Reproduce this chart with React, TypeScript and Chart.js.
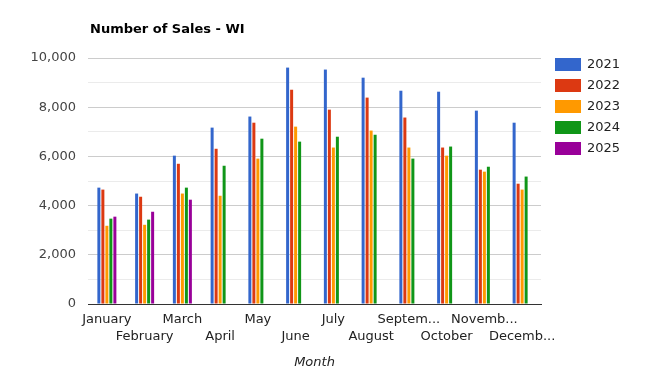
import React, { useEffect, useRef } from 'react';
import { Chart, registerables } from 'chart.js';

Chart.register(...registerables);

const chartTitle = 'Number of Sales - WI';
const xAxisTitle = 'Month';

const months = [
  'January', 'February', 'March', 'April', 'May', 'June',
  'July', 'August', 'September', 'October', 'November', 'December',
];
const tickLabels = [
  'January', 'February', 'March', 'April', 'May', 'June',
  'July', 'August', 'Septem...', 'October', 'Novemb...', 'Decemb...',
];

const seriesNames = ['2021', '2022', '2023', '2024', '2025'];
const seriesColors = ['#3366cc', '#dc3912', '#ff9900', '#109618', '#990099'];

const sales2021 = [4730, 4490, 6030, 7170, 7620, 9610, 9530, 9200, 8670, 8630, 7860, 7370];
const sales2022 = [4650, 4360, 5700, 6310, 7370, 8710, 7900, 8390, 7580, 6360, 5460, 4890];
const sales2023 = [3180, 3220, 4490, 4400, 5910, 7210, 6360, 7050, 6360, 6030, 5380, 4650];
const sales2024 = [3470, 3430, 4730, 5620, 6720, 6600, 6800, 6880, 5910, 6400, 5580, 5180];
const sales2025 = [3550, 3750, 4240, null, null, null, null, null, null, null, null, null];

const yTicksMax = 10000;
const yStep = 1000;

const FONT = "'DejaVu Sans', Verdana, sans-serif";

const titleLegendPlugin = {
  id: 'titleLegend',
  afterDraw(chart: any) {
    const ctx = chart.ctx;
    ctx.save();
    ctx.font = `bold 13px ${FONT}`;
    ctx.fillStyle = '#000000';
    ctx.textAlign = 'left';
    ctx.textBaseline = 'middle';
    ctx.fillText(chartTitle, 90, 30);

    ctx.font = `13px ${FONT}`;
    chart.data.datasets.forEach((ds: any, i: number) => {
      const y = 58 + i * 21;
      ctx.fillStyle = ds.backgroundColor;
      ctx.fillRect(555, y, 26, 13);
      ctx.fillStyle = '#222222';
      ctx.textBaseline = 'middle';
      ctx.fillText(ds.label, 587, y + 7);
    });
    ctx.restore();
  },
};

export default function App() {
  const canvasRef = useRef<HTMLCanvasElement | null>(null);

  useEffect(() => {
    if (!canvasRef.current) return;
    const allSeries = [sales2021, sales2022, sales2023, sales2024, sales2025];
    const chart = new Chart(canvasRef.current, {
      type: 'bar',
      data: {
        labels: months,
        datasets: allSeries.map((d, i) => ({
          label: seriesNames[i],
          data: d,
          backgroundColor: seriesColors[i],
          borderWidth: 0,
          categoryPercentage: 0.53,
          barPercentage: 0.75,
        })),
      },
      options: {
        responsive: false,
        animation: false,
        font: { family: FONT },
        layout: { padding: { left: 0, right: 107, top: 58, bottom: 0 } },
        plugins: {
          legend: { display: false },
          title: { display: false },
          tooltip: { enabled: false },
        },
        scales: {
          x: {
            grid: { display: false, drawTicks: false },
            border: { display: true, color: '#333333', width: 1 },
            ticks: {
              autoSkip: false,
              maxRotation: 0,
              minRotation: 0,
              padding: 7,
              color: '#222222',
              font: { family: FONT, size: 13, lineHeight: 1.3 },
              callback: (_v: any, idx: number) =>
                idx % 2 === 0 ? [tickLabels[idx], ''] : ['', tickLabels[idx]],
            },
            title: {
              display: true,
              text: xAxisTitle,
              color: '#222222',
              font: { family: FONT, size: 13, style: 'italic' },
              padding: { top: 0, bottom: 10 },
            },
            afterFit: (scale: any) => {
              scale.height = 76;
            },
          },
          y: {
            min: 0,
            max: yTicksMax,
            grid: {
              drawTicks: false,
              color: (c: any) => (c.tick && c.tick.value % 2000 === 0 ? '#cccccc' : '#ebebeb'),
            },
            border: { display: false },
            ticks: {
              stepSize: yStep,
              padding: 12,
              color: '#444444',
              font: { family: FONT, size: 13 },
              callback: (v: any) => (Number(v) % 2000 === 0 ? Number(v).toLocaleString('en-US') : ''),
            },
            afterFit: (scale: any) => {
              scale.width = 88;
            },
          },
        },
      },
      plugins: [titleLegendPlugin],
    } as any);
    return () => chart.destroy();
  }, []);

  return (
    <div style={{ position: 'absolute', left: 0, top: 0, width: 648, height: 380, background: '#ffffff' }}>
      <canvas ref={canvasRef} width={648} height={380} style={{ width: 648, height: 380 }} />
    </div>
  );
}
